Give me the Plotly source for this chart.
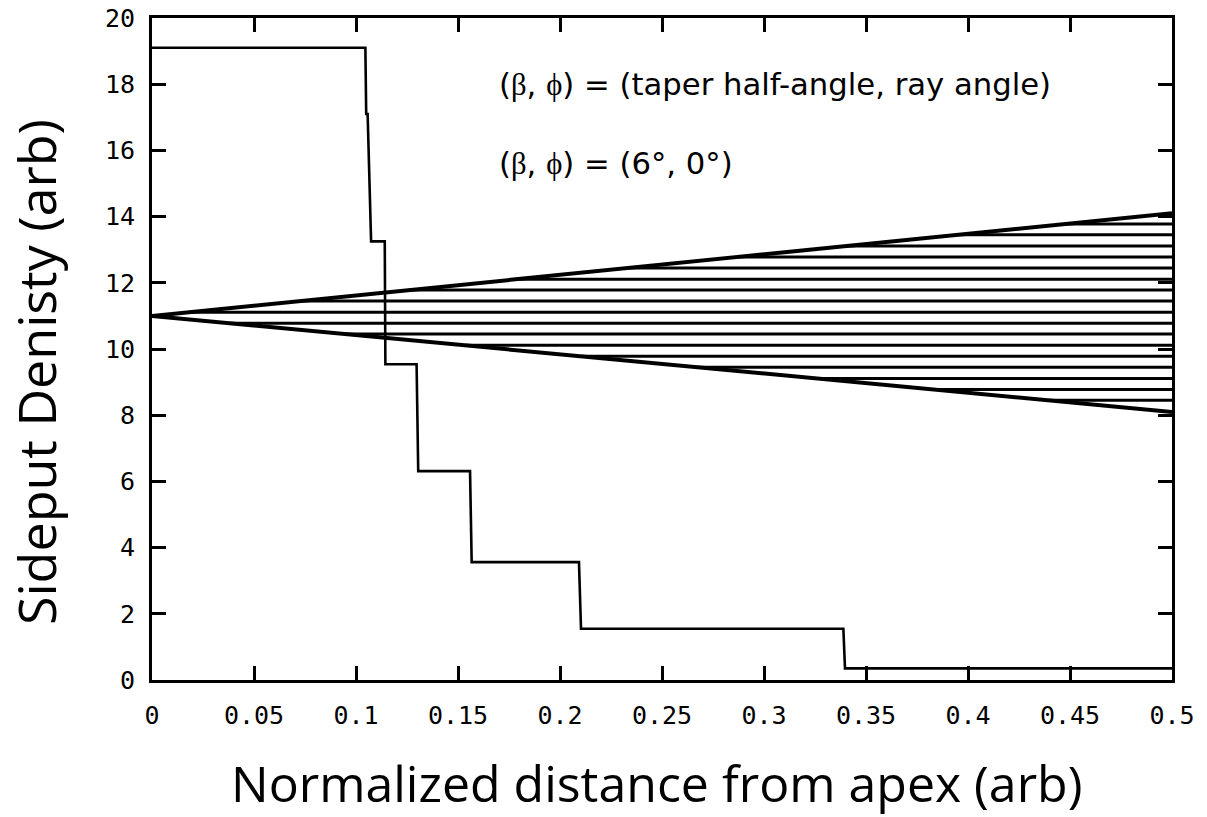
import plotly.graph_objects as go

# ---- data ----
step_x = [0.0, 0.1046, 0.1050, 0.1057, 0.1074, 0.1141, 0.1144, 0.1297, 0.1305,
          0.1559, 0.1567, 0.2093, 0.2103, 0.3389, 0.3397, 0.5]
step_y = [19.1, 19.1, 17.1, 17.1, 13.25, 13.25, 9.54, 9.54, 6.31,
          6.31, 3.56, 3.56, 1.55, 1.55, 0.35, 0.35]

apex_x = 0.0
apex_y = 11.0
end_x = 0.5
upper_end_y = 14.1
lower_end_y = 8.1

hatch_levels = [8.45, 8.78, 9.11, 9.45, 9.78, 10.11, 10.45, 10.78, 11.11,
                11.45, 11.78, 12.11, 12.45, 12.78, 13.11, 13.45, 13.78]

x_ticks = [0, 0.05, 0.1, 0.15, 0.2, 0.25, 0.3, 0.35, 0.4, 0.45, 0.5]
x_tick_text = ["0", "0.05", "0.1", "0.15", "0.2", "0.25", "0.3", "0.35", "0.4", "0.45", "0.5"]
y_ticks = [0, 2, 4, 6, 8, 10, 12, 14, 16, 18, 20]

# ---- build hatch segments between wedge boundaries ----
hx, hy = [], []
for h in hatch_levels:
    if h >= apex_y:
        x0 = apex_x + (end_x - apex_x) * (h - apex_y) / (upper_end_y - apex_y)
    else:
        x0 = apex_x + (end_x - apex_x) * (apex_y - h) / (apex_y - lower_end_y)
    hx += [x0, end_x, None]
    hy += [h, h, None]

fig = go.Figure()
fig.add_trace(go.Scatter(x=hx, y=hy, mode="lines",
                         line=dict(color="black", width=3), showlegend=False))
fig.add_trace(go.Scatter(x=[apex_x, end_x], y=[apex_y, upper_end_y], mode="lines",
                         line=dict(color="black", width=4), showlegend=False))
fig.add_trace(go.Scatter(x=[apex_x, end_x], y=[apex_y, lower_end_y], mode="lines",
                         line=dict(color="black", width=4), showlegend=False))
fig.add_trace(go.Scatter(x=step_x, y=step_y, mode="lines",
                         line=dict(color="black", width=2.6), showlegend=False))

tick_font = dict(family="DejaVu Sans Mono", size=25, color="black")

common = dict(showline=True, linewidth=3, linecolor="black", mirror="allticks",
              ticks="inside", ticklen=14, tickwidth=2.5, tickcolor="black",
              showgrid=False, zeroline=False, tickfont=tick_font, automargin=False,
              ticklabeloverflow="allow")
fig.update_xaxes(range=[0, 0.5], tickvals=x_ticks, ticktext=x_tick_text,
                 ticklabelstandoff=11, **common)
fig.update_yaxes(range=[0, 20], tickvals=y_ticks, ticklabelstandoff=9, **common)

# axis titles placed as annotations (paper coords relative to plot area)
fig.add_annotation(x=0.4946, y=-0.155, xref="paper", yref="paper",
                   xanchor="center", yanchor="middle", showarrow=False,
                   text="Normalized distance from apex (arb)",
                   font=dict(family="Open Sans", size=50, color="black"))
fig.add_annotation(x=-0.1142, y=0.4645, xref="paper", yref="paper",
                   xanchor="center", yanchor="middle", showarrow=False, textangle=-90,
                   text="Sideput Denisty (arb)",
                   font=dict(family="Open Sans", size=52, color="black"))

ann_font = dict(family="DejaVu Sans", size=30.7, color="black")
greek = '<span style="font-family:Liberation Serif">'
fig.add_annotation(x=0.169, y=17.98, xref="x", yref="y", xanchor="left", yanchor="middle",
                   text=f"({greek}β</span>, {greek}ϕ</span>) = (taper half-angle, ray angle)",
                   showarrow=False, font=ann_font)
fig.add_annotation(x=0.169, y=15.6, xref="x", yref="y", xanchor="left", yanchor="middle",
                   text=f"({greek}β</span>, {greek}ϕ</span>) = (6°, 0°)",
                   showarrow=False, font=ann_font)

fig.update_layout(width=1207, height=817, plot_bgcolor="white", paper_bgcolor="white",
                  margin=dict(l=152, r=35, t=18, b=137), showlegend=False)

# remove the browser's default 8px body margin so the figure sits at the page origin
fig.write_html("out.html", config={"displayModeBar": False},
               post_script="document.body.style.margin='0';document.body.style.overflow='hidden';")
